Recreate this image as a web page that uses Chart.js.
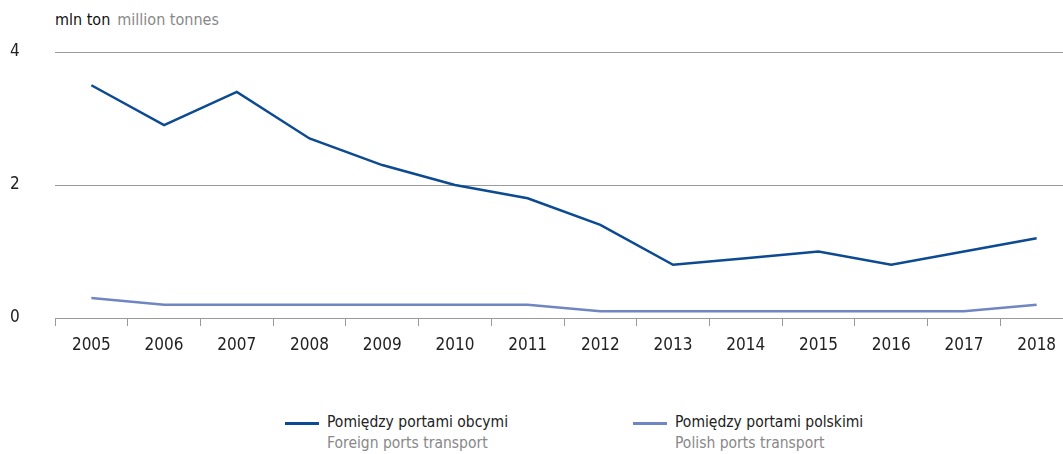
<!DOCTYPE html>
<html>
<head>
<meta charset="utf-8">
<script src="https://cdn.jsdelivr.net/npm/chart.js@4"></script>
<style>
  html, body { margin: 0; padding: 0; background: #fff; overflow: hidden; width: 1063px; height: 454px; }
  body { position: relative; font-family: "Liberation Sans Narrow", "DejaVu Sans Condensed", sans-serif; }
  #wrap { position: absolute; left: 0; top: 0; width: 1073px; height: 360px; }
  .unit { position: absolute; left: 55px; top: 10px; font-size: 16px; color: #111; white-space: nowrap; }
  .unit span { color: #888; margin-left: 7px; }
  .leg { position: absolute; top: 412px; font-size: 15.5px; line-height: 21px; white-space: nowrap; }
  .leg i { position: absolute; left: 0; top: 10px; width: 34px; height: 3px; }
  .leg div { margin-left: 42px; color: #222; }
  .leg div.en { color: #888; }
</style>
</head>
<body>
<div class="unit">mln ton<span>million tonnes</span></div>
<div id="wrap"><canvas id="chart" width="1073" height="360"></canvas></div>
<div class="leg" style="left:285px"><i style="background:#0c4a92"></i><div>Pomiędzy portami obcymi</div><div class="en">Foreign ports transport</div></div>
<div class="leg" style="left:633px"><i style="background:#6f86c2"></i><div>Pomiędzy portami polskimi</div><div class="en">Polish ports transport</div></div>
<script>
// lata i wartości
const years = ['2005', '2006', '2007', '2008', '2009', '2010', '2011', '2012', '2013', '2014', '2015', '2016', '2017', '2018'];
const foreignPorts = [3.5, 2.9, 3.4, 2.7, 2.3, 2.0, 1.8, 1.4, 0.8, 0.9, 1.0, 0.8, 1.0, 1.2];
const polishPorts = [0.3, 0.2, 0.2, 0.2, 0.2, 0.2, 0.2, 0.1, 0.1, 0.1, 0.1, 0.1, 0.1, 0.2];
const yTicks = [0, 2, 4];

const fontFamily = '"Liberation Sans Narrow", "DejaVu Sans Condensed", sans-serif';

new Chart(document.getElementById('chart'), {
    type: 'line',
    data: {
        labels: years,
        datasets: [{
            label: 'Pomiędzy portami obcymi',
            data: foreignPorts,
            borderColor: '#0c4a92',
            borderWidth: 2.5,
            pointRadius: 0,
            tension: 0
        }, {
            label: 'Pomiędzy portami polskimi',
            data: polishPorts,
            borderColor: '#6f86c2',
            borderWidth: 2.5,
            pointRadius: 0,
            tension: 0
        }]
    },
    options: {
        responsive: false,
        animation: false,
        layout: { padding: { top: 52, left: 10, right: 0, bottom: 0 } },
        plugins: {
            legend: { display: false },
            tooltip: { enabled: false }
        },
        scales: {
            x: {
                offset: true,
                grid: {
                    offset: true,
                    drawOnChartArea: false,
                    tickLength: 8,
                    color: '#9a9a9a'
                },
                border: { color: '#9a9a9a', width: 1 },
                ticks: {
                    padding: 9,
                    color: '#222',
                    font: { family: fontFamily, size: 17 },
                    maxRotation: 0
                },
                afterFit: function (s) { s.height = 42; }
            },
            y: {
                min: 0,
                max: 4,
                afterBuildTicks: function (s) { s.ticks = yTicks.map(v => ({ value: v })); },
                grid: { color: '#9a9a9a', drawTicks: false },
                border: { display: false },
                ticks: {
                    crossAlign: 'far',
                    padding: 0,
                    color: '#222',
                    font: { family: fontFamily, size: 17 }
                },
                afterFit: function (s) { s.width = 45; }
            }
        }
    }
});
</script>
</body>
</html>
